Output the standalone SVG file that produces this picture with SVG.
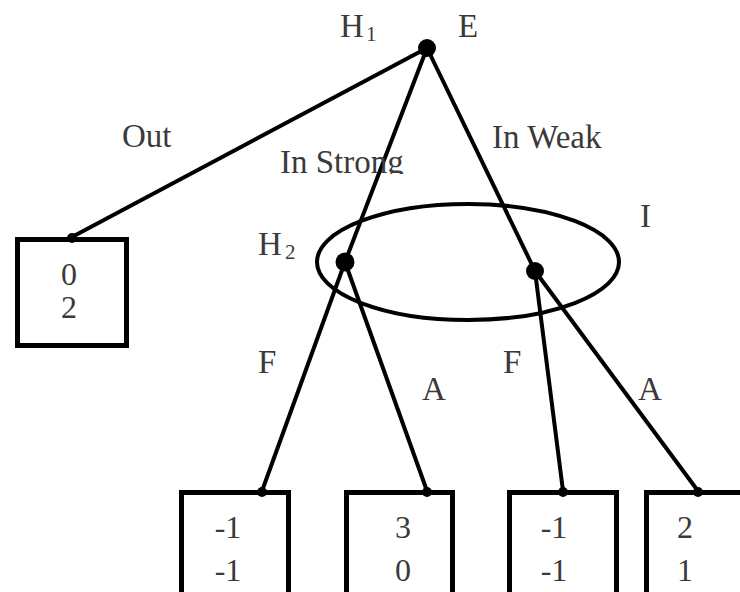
<svg xmlns="http://www.w3.org/2000/svg" width="740" height="592" viewBox="0 0 740 592">
<style>
.lbl{font-family:"Liberation Serif","Times New Roman",serif;font-size:33px;fill:#3a3a3a}
.sub{font-family:"Liberation Serif","Times New Roman",serif;font-size:21px;fill:#3a3a3a}
.num{font-family:"Liberation Serif","Times New Roman",serif;font-size:32px;fill:#3a3a3a;text-anchor:middle}
.box{fill:#fff;stroke:#000;stroke-width:5}
.edge{stroke:#000;stroke-width:4;fill:none;stroke-linecap:round}
.dot{fill:#000}
</style>
<defs>
<clipPath id="clipStrong"><rect x="0" y="0" width="740" height="174"/></clipPath>
</defs>
<rect width="740" height="592" fill="#fff"/>
<g id="connectors">
<line class="edge" x1="427" y1="48" x2="72" y2="237"/>
<line class="edge" x1="427" y1="48" x2="345" y2="262"/>
<line class="edge" x1="427" y1="48" x2="535" y2="271"/>
<line class="edge" x1="345" y1="262" x2="262" y2="491"/>
<line class="edge" x1="345" y1="262" x2="427" y2="491"/>
<line class="edge" x1="535" y1="271" x2="563" y2="491"/>
<line class="edge" x1="535" y1="271" x2="698" y2="491"/>
<ellipse id="infoset" cx="468" cy="262" rx="151" ry="58" fill="none" stroke="#000" stroke-width="4"/>
</g>
<g id="labels">
<text class="lbl" x="122" y="147">Out</text>
<text class="lbl" x="280" y="173" clip-path="url(#clipStrong)">In Strong</text>
<text class="lbl" x="492" y="148">In Weak</text>
<text class="lbl" x="640" y="227">I</text>
<text class="lbl" x="258" y="373">F</text>
<text class="lbl" x="422" y="400">A</text>
<text class="lbl" x="503" y="373">F</text>
<text class="lbl" x="638" y="400">A</text>
</g>
<g id="root">
<circle class="dot" cx="427" cy="48" r="9"/>
<text class="lbl" x="340" y="37">H</text><text class="sub" x="366" y="41">1</text>
<text class="lbl" x="458" y="37">E</text>
</g>
<g id="h2">
<circle class="dot" cx="345" cy="262" r="9.5"/>
<text class="lbl" x="258" y="255">H</text><text class="sub" x="285" y="259">2</text>
</g>
<g id="weak">
<circle class="dot" cx="535" cy="271" r="9"/>
</g>
<g id="payoff-out">
<rect class="box" x="17.5" y="239.5" width="109" height="106"/>
<circle class="dot" cx="72" cy="238" r="5"/>
<text class="num" x="69" y="285">0</text>
<text class="num" x="69" y="318">2</text>
</g>
<g id="payoff-sf">
<rect class="box" x="181.5" y="492.5" width="107" height="110"/>
<circle class="dot" cx="262" cy="492" r="5"/>
<text class="num" x="228" y="538">-1</text>
<text class="num" x="228" y="581">-1</text>
</g>
<g id="payoff-sa">
<rect class="box" x="346.5" y="492.5" width="106" height="110"/>
<circle class="dot" cx="427" cy="492" r="5"/>
<text class="num" x="403" y="538">3</text>
<text class="num" x="403" y="581">0</text>
</g>
<g id="payoff-wf">
<rect class="box" x="509.5" y="492.5" width="107" height="110"/>
<circle class="dot" cx="563" cy="492" r="5"/>
<text class="num" x="554" y="538">-1</text>
<text class="num" x="554" y="581">-1</text>
</g>
<g id="payoff-wa">
<rect class="box" x="646.5" y="492.5" width="107" height="110"/>
<circle class="dot" cx="698" cy="492" r="5"/>
<text class="num" x="685" y="538">2</text>
<text class="num" x="685" y="581">1</text>
</g>
</svg>
